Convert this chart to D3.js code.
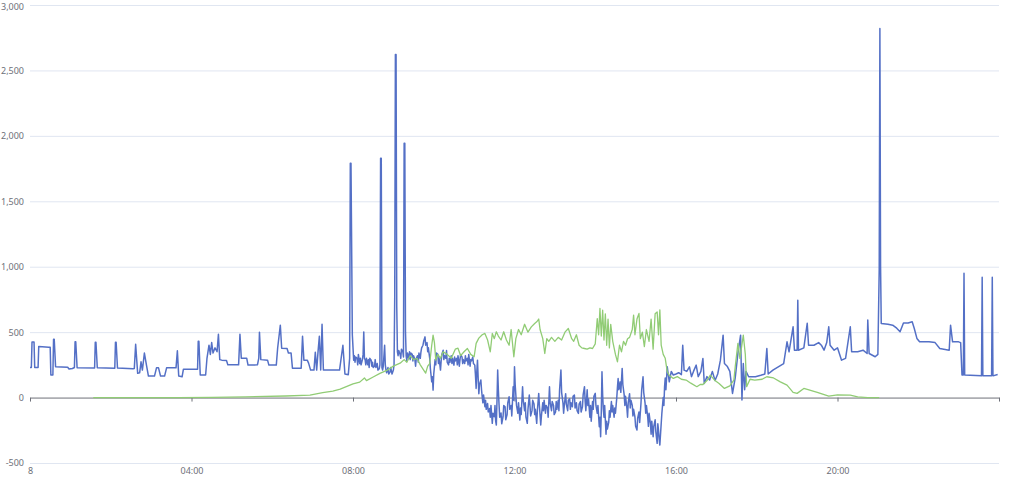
<!DOCTYPE html>
<html>
<head>
<meta charset="utf-8">
<title>Power over the day</title>
<style>
  body { margin: 0; background: #fff; }
  .grid line { stroke: #E0E6F1; stroke-width: 1; }
  .grid path { display: none; }
  .ylab text, .xlab text { fill: #6E7079; font-family: "Noto Sans", sans-serif; font-size: 9px; }
  .ylab path, .ylab line, .xlab path, .xlab line { display: none; }
  .zero path, .zero line { stroke: #6E7079; stroke-width: 1; }
  .zero text { display: none; }
  .load { fill: none; stroke: #5470C6; stroke-width: 1.5; stroke-linejoin: round; }
  .solar { fill: none; stroke: #91CC75; stroke-width: 1.3; stroke-linejoin: round; }
</style>
</head>
<body>
<script src="https://cdn.jsdelivr.net/npm/d3@7"></script>
<script>
// time in minutes after midnight, value in W

var yTicks = [-500, 0, 500, 1000, 1500, 2000, 2500, 3000];
var xTicks = [0, 240, 480, 720, 960, 1200];
var xTickLabels = ["8", "04:00", "08:00", "12:00", "16:00", "20:00"];

// blue: grid power
var gridPower = [
  [0,230],[2,230],[3,425],[6,425],[7,230],[12,230],[13,390],[28,385],[30,385],[31,172],[34,172],[35,446],[36,446],[38,235],
  [56,232],[58,218],[63,222],[66,230],[67,426],[68,426],[70,228],[96,226],[97,423],[98,423],[100,228],
  [126,225],[127,423],[128,423],[130,226],[153,220],[155,222],[157,408],[160,185],[163,190],[165,273],[167,210],[170,340],
  [173,250],[176,164],[185,164],[188,227],[191,227],[194,164],[200,164],[203,227],[217,227],[219,357],[221,165],[226,159],
  [228,217],[249,217],[250,431],[251,431],[253,172],[261,172],[263,300],[266,400],[268,330],[270,420],[272,340],[275,380],
  [278,350],[280,484],[282,290],[285,286],[292,283],[294,250],[310,250],[312,484],[314,300],[322,301],[324,248],[338,250],
  [340,301],[341,500],[343,290],[353,286],[355,248],[366,248],[368,377],[372,553],[374,377],[382,375],[384,340],[388,340],
  [390,225],[403,225],[405,469],[407,286],[412,286],[414,263],[417,210],[422,210],[424,347],[426,210],[428,347],[430,469],
  [432,210],[434,561],[436,210],[460,210],[465,400],[468,180],[473,175],[475,300],[476,1790],[477,1790],[478,1150],[479,480],
  [481,286],[482,320],[483,270],[484,310],[486,300],[487,250],[488,330],[490,260],[491,300],[492,250],[494,290],[495,330],
  [496,502],[497,300],[498,290],[499,250],[500,300],[502,250],[503,290],[504,230],[505,300],[507,285],[508,240],[509,270],
  [510,230],[512,240],[513,290],[514,230],[516,260],[517,210],[519,220],[520,250],[521,1828],[522,1828],[523,230],[524,210],
  [525,240],[527,400],[528,250],[529,210],[530,190],[532,230],[533,180],[535,195],[536,230],[538,180],[540,210],[541,250],
  [542,760],[543,2622],[544,2622],[545,700],[546,350],[547,320],[548,360],[550,330],[551,300],[552,370],[554,350],[555,310],
  [556,1943],[557,1943],[558,500],[559,320],[560,280],[561,340],[563,300],[564,350],[565,290],[566,340],[568,330],[569,280],
  [570,320],[572,290],[573,240],[574,300],[576,320],[577,270],[578,340],[580,300],[581,350],[582,380],[584,400],[585,430],
  [587,464],[588,400],[590,420],[591,350],[592,380],[594,300],[595,220],[597,120],[598,160],[599,57],
  [600,180],[602,290],[603,250],[604,340],[606,330],[607,260],[608,300],[610,210],[611,280],[612,330],[614,362],[615,290],
  [616,320],[618,300],[619,360],[620,270],[622,250],[623,300],[624,270],[626,320],[627,260],[628,300],[630,248],[631,310],
  [632,280],[634,300],[635,250],[636,320],[638,240],[639,290],[640,330],[642,310],[643,260],[644,290],[646,260],[647,320],
  [648,280],[650,300],[651,250],[652,330],[654,240],[655,290],[656,280],[658,310],[659,260],[661,248],[662,170],[663,70],
  [664,200],[665,286],[666,150],[667,30],[668,100],[670,134],[671,60],
  [672,6],[673,-40],[674,20],[676,-70],[677,-20],[678,-90],[680,-45],[681,-110],[683,-83],[684,-150],[685,-60],[687,-197],
  [688,-120],[690,-146],[691,-60],[692,-180],[693,-210],[694,-20],[695,210],[696,60],[697,-50],[698,-150],[700,-118],
  [701,-200],[703,-146],[704,-60],[706,-70],[707,-170],[709,-130],[710,-40],[712,6],[713,-90],[715,-60],[716,-140],[718,83],
  [719,-20],[720,235],[721,100],[722,20],[723,-60],[725,-120],[726,-40],[728,-172],[729,-80],[730,-130],[732,83],[733,-20],
  [735,-100],[736,-40],[737,-150],[739,-197],[740,-90],[742,20],[743,-60],[744,-140],[746,-100],[747,-20],[749,-50],
  [750,-130],[751,-90],[753,-197],[754,-100],[756,32],[757,-60],[759,-210],[760,-140],[762,-40],[763,-100],[764,-20],
  [766,-120],[767,-60],[769,-80],[770,-150],[772,83],[773,-40],[775,-100],[776,-30],[778,-60],[779,-130],[781,-110],
  [782,-30],[783,-90],[785,-20],[786,-100],[787,60],[789,210],[790,40],[792,-40],[793,-120],[794,-60],[796,30],[797,-50],
  [799,-100],[800,-20],[802,-10],[803,-90],[804,-40],[806,-70],[807,10],[809,20],[810,-80],[812,-40],[813,-100],[815,-121],
  [816,-50],[818,-30],[819,-110],[821,-70],[822,20],[824,83],[825,-30],[826,-100],[828,60],[829,-60],[830,-10],[832,-150],
  [833,-60],[834,-180],[836,-30],[837,-90],[838,10],[840,32],[841,-60],[843,-120],[844,-60],[846,-223],[847,-150],
  [848,-299],[849,-100],[850,197],[851,20],[852,-90],[853,-150],[854,-60],[856,-280],[857,-180],[858,-240],[860,-190],
  [861,-100],[862,-150],[864,-30],[865,-110],[866,-60],[868,-150],[869,-80],[870,-120],[872,0],[873,80],[874,146],[875,60],
  [877,120],[878,40],[880,223],[881,100],[883,20],[884,-60],[885,10],[887,-80],[888,-150],[889,-40],[891,30],[892,-80],
  [893,-20],[895,-60],[896,-140],[897,-90],[899,-150],[900,-220],[902,-248],[903,-160],[905,-110],[906,-190],[908,-40],
  [909,60],[911,159],[912,40],[914,-40],[915,-120],[916,-60],[918,-150],[919,-220],[920,-120],[922,-200],[923,-280],
  [924,-180],[926,-299],[927,-220],[929,-170],[930,-260],[932,-350],[933,-200],[934,-250],[935,-320],[936,-363],[937,-280],
  [938,-200],[939,-120],[941,0],[942,-60],[943,80],[944,150],[945,60],[947,235],
  [950,120],[953,200],[956,172],[960,180],[964,190],[968,175],[970,400],
  [972,210],[976,200],[980,235],[983,160],[986,200],[990,248],[993,160],[997,200],[1000,299],[1002,108],[1006,160],
  [1010,134],[1014,200],[1018,130],[1022,180],[1026,286],[1030,477],[1032,260],[1036,240],[1040,200],[1044,32],[1048,150],
  [1052,337],[1056,477],[1058,-19],[1060,260],[1062,60],[1064,200],[1068,159],[1078,159],[1086,170],[1092,180],[1095,375],
  [1097,180],[1104,210],[1112,235],[1120,260],[1125,426],[1128,350],[1134,541],[1136,362],[1140,362],[1141,744],[1142,362],
  [1150,380],[1155,568],[1157,400],[1165,400],[1172,420],[1176,400],[1180,362],[1184,420],[1187,541],[1189,400],[1195,362],
  [1200,380],[1206,286],[1212,300],[1219,541],[1221,350],[1230,350],[1238,362],[1244,337],[1245,592],[1247,337],[1256,312],
  [1260,330],[1262,980],[1263,2820],[1264,1000],[1265,566],[1275,560],[1282,553],[1288,530],[1293,503],[1298,570],
  [1305,570],[1311,579],[1314,530],[1318,452],[1322,426],[1336,426],[1345,420],[1352,375],[1366,362],[1368,553],[1371,426],
  [1380,426],[1383,420],[1385,172],[1387,172],[1388,950],[1389,172],[1414,166],[1415,920],[1416,166],[1429,166],[1430,920],
  [1431,166],[1438,177]
];

// green: solar
var solarPower = [
  [94,0],[220,0],[270,2],[320,6],[380,12],[416,19],[435,37],[450,50],[461,65],[480,105],[490,118],[497,150],[500,130],
  [510,157],[520,185],[531,210],[540,240],[550,263],[556,290],[560,270],[565,320],[570,290],[575,300],[580,250],[585,210],
  [588,187],[591,240],[594,260],[597,400],[599,477],[601,420],[603,286],[606,330],[610,300],[614,350],[620,330],[626,300],
  [632,370],[636,377],[640,320],[645,350],[650,375],[655,330],[660,312],[663,414],[667,454],[672,480],[676,490],[680,440],
  [684,350],[687,490],[690,450],[693,503],[696,470],[700,440],[704,503],[708,440],[712,400],[715,520],[719,312],[722,450],
  [726,520],[730,480],[735,560],[740,500],[745,540],[750,566],[753,579],[756,600],[758,520],[762,450],[765,337],[768,450],
  [771,430],[775,460],[780,430],[785,460],[790,440],[795,500],[800,528],[805,450],[808,430],[812,480],[816,400],[820,380],
  [824,375],[828,370],[832,380],[836,375],[840,410],[843,604],[845,480],[847,681],[849,470],[851,668],[853,440],[855,640],
  [857,400],[859,600],[861,380],[863,560],[866,430],[870,330],[873,273],[876,400],[879,350],[882,430],[885,400],[888,450],
  [891,460],[895,520],[897,630],[899,480],[902,600],[905,643],[907,450],[910,500],[913,390],[916,520],[920,430],[923,600],
  [926,370],[929,640],[932,655],[934,480],[936,670],[938,400],[941,330],[944,300],[947,197],[950,170],[956,146],[962,160],
  [968,140],[975,134],[982,110],[991,83],[996,100],[1000,100],[1006,130],[1011,172],[1018,130],[1024,108],[1032,70],
  [1040,90],[1046,134],[1048,235],[1052,414],[1055,300],[1060,477],[1063,330],[1065,83],[1070,140],[1077,134],[1088,140],
  [1095,159],[1105,150],[1115,120],[1125,95],[1134,40],[1140,32],[1150,70],[1160,55],[1170,40],[1187,11],[1200,20],
  [1219,19],[1230,5],[1245,0],[1262,0]
];

var width = 1024, height = 479;
var margin = {top: 5, right: 25, bottom: 16, left: 30};

var svg = d3.select("body").append("svg")
  .attr("width", width)
  .attr("height", height);

var x = d3.scaleLinear().domain([0, 1440]).range([margin.left, width - margin.right]);
var y = d3.scaleLinear().domain([-500, 3000]).range([height - margin.bottom, margin.top]);

var fmt = function(d){ return d3.format(",")(d).replace("\u2212", "-"); };

// gridlines
svg.append("g")
  .attr("class", "grid")
  .attr("transform", "translate(" + margin.left + ",0)")
  .call(d3.axisLeft(y).tickValues(yTicks.filter(function(d){ return d !== 0; }))
    .tickSize(-(width - margin.left - margin.right)).tickFormat(""));

// y labels
svg.append("g")
  .attr("class", "ylab")
  .attr("transform", "translate(" + margin.left + ",0)")
  .call(d3.axisLeft(y).tickValues(yTicks).tickSize(0).tickPadding(6).tickFormat(fmt))
  .selectAll("text")
  .attr("dy", function(d){ return d === 3000 ? "0.5em" : "0.32em"; });

// axis line on zero
svg.append("g")
  .attr("class", "zero")
  .attr("transform", "translate(0," + y(0) + ")")
  .call(d3.axisBottom(x).tickValues(xTicks.concat([1440])).tickSize(4).tickSizeOuter(0));

// x labels at the bottom
svg.append("g")
  .attr("class", "xlab")
  .attr("transform", "translate(0," + (height - margin.bottom) + ")")
  .call(d3.axisBottom(x).tickValues(xTicks).tickSize(0).tickPadding(5)
    .tickFormat(function(d, i){ return xTickLabels[i]; }));

var line = d3.line()
  .x(function(d){ return x(d[0]); })
  .y(function(d){ return y(d[1]); });

svg.append("path").datum(gridPower).attr("class", "load").attr("d", line);
svg.append("path").datum(solarPower).attr("class", "solar").attr("d", line);
</script>
</body>
</html>
